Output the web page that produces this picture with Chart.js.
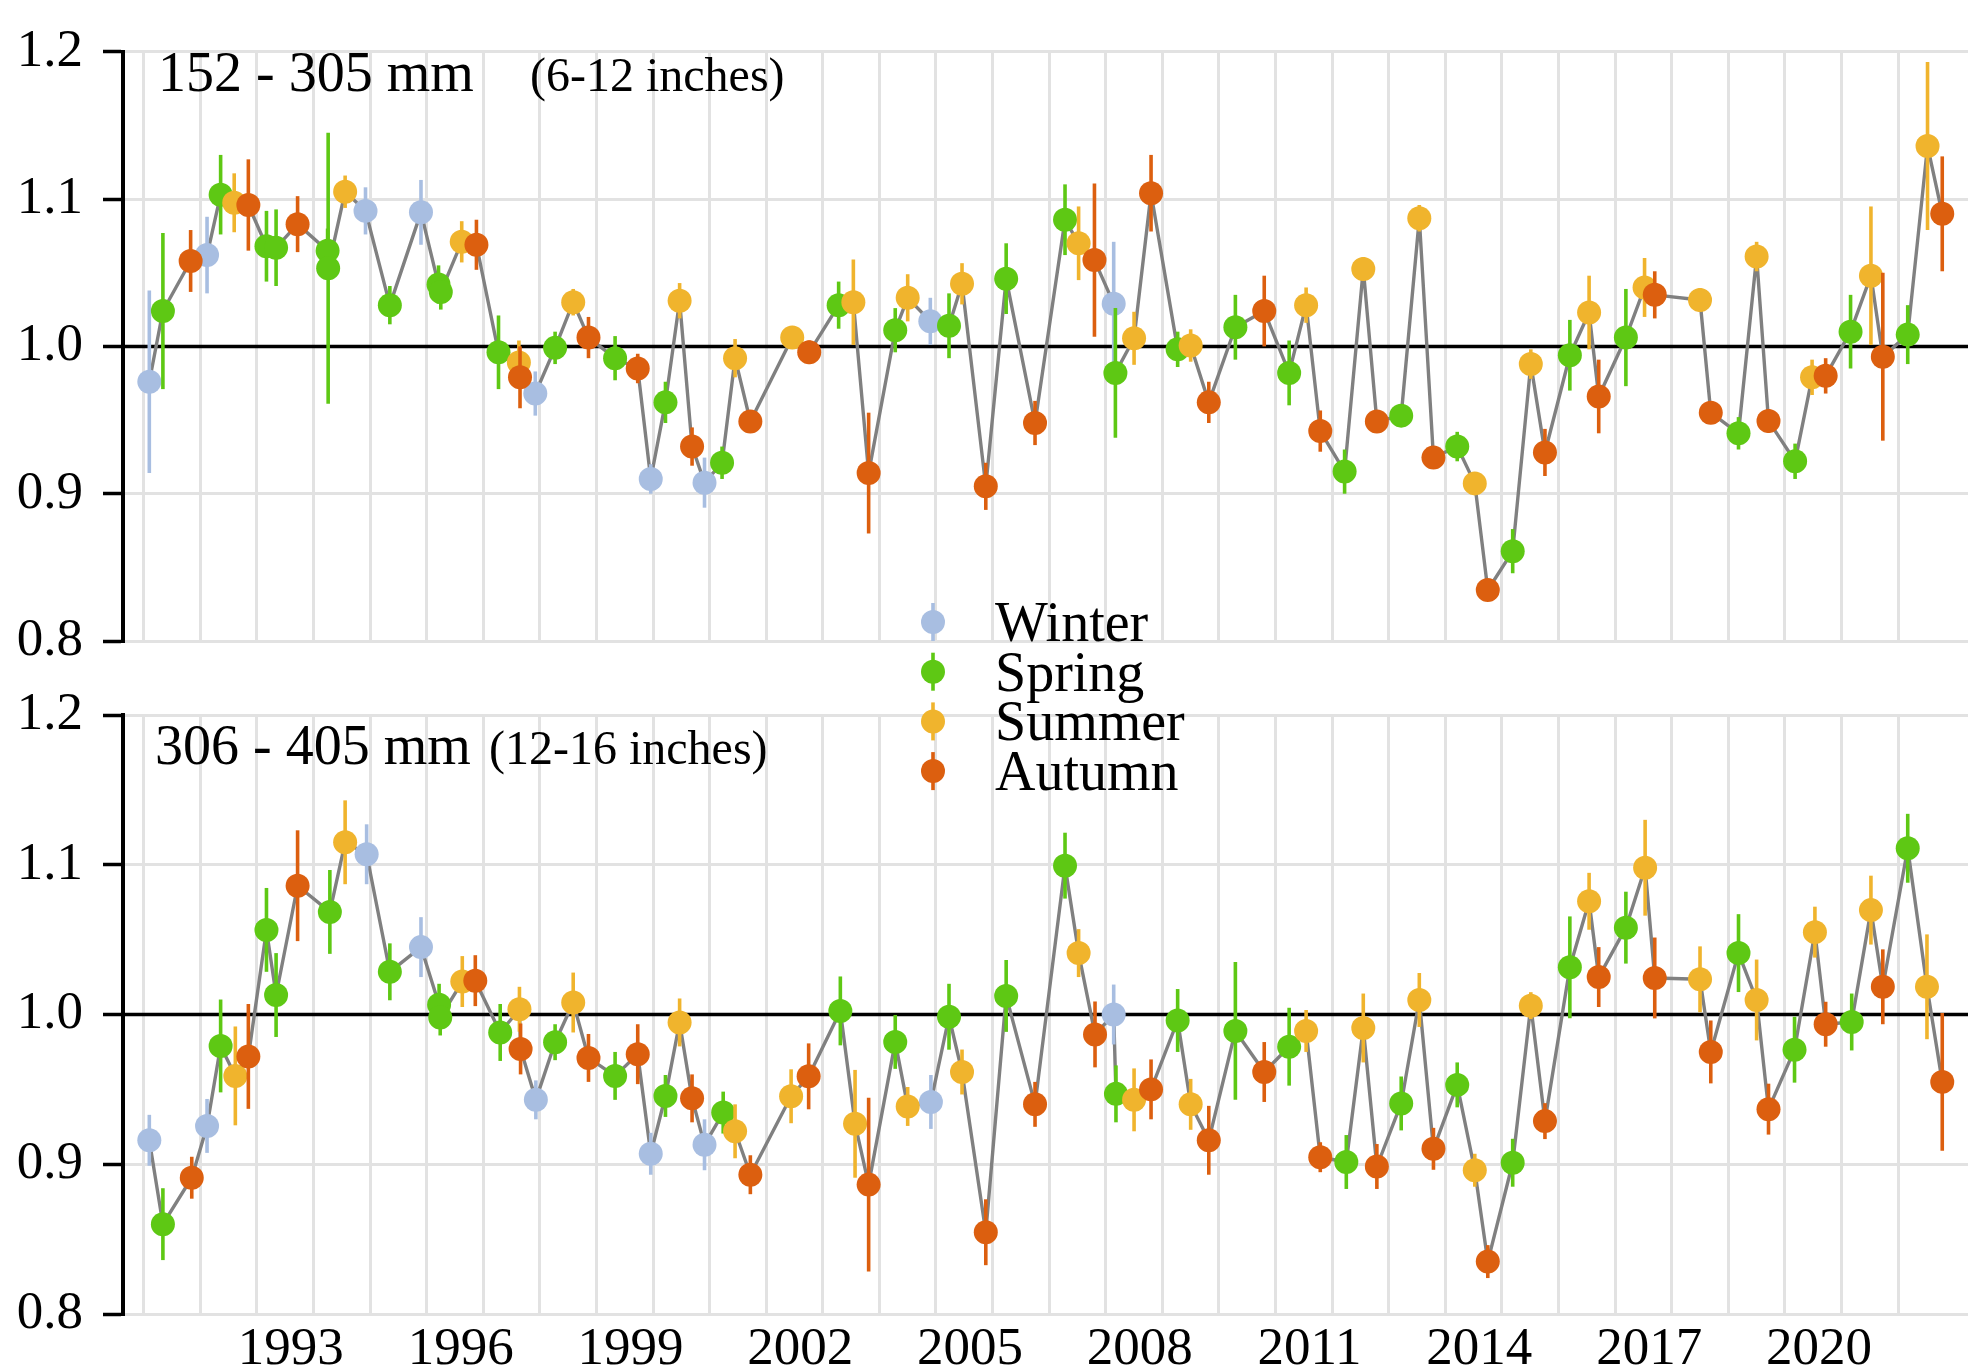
<!DOCTYPE html>
<html>
<head>
<meta charset="utf-8">
<script src="https://cdn.jsdelivr.net/npm/chart.js@4.4.1/dist/chart.umd.min.js"></script>
<style>
html,body{margin:0;padding:0;background:#fff;}
#wrap{position:relative;width:1980px;height:1371px;overflow:hidden;background:#fff;}
canvas{position:absolute;left:0;}
#c1{top:0;}
#c2{top:580px;}
</style>
</head>
<body>
<div id="wrap">
<canvas id="c1" width="1980" height="700" style="width:1980px;height:700px"></canvas>
<canvas id="c2" width="1980" height="791" style="width:1980px;height:791px"></canvas>
</div>
<script>
// ---------- DATA ----------
const seasonNames = ['Winter', 'Spring', 'Summer', 'Autumn'];
const seasonColors = ['#a8bee1', '#5ec814', '#f0b42d', '#dc5f0f'];
const yTickValues = [0.8, 0.9, 1.0, 1.1, 1.2];
const gridYears = [1991,1992,1993,1994,1995,1996,1997,1998,1999,2000,2001,2002,2003,2004,2005,2006,2007,2008,2009,2010,2011,2012,2013,2014,2015,2016,2017,2018,2019,2020,2021,2022];
const xTickLabels = [1993, 1996, 1999, 2002, 2005, 2008, 2011, 2014, 2017, 2020];
const panelTitles = ['152 - 305 mm', '306 - 405 mm'];
const panelSubtitles = ['(6-12 inches)', '(12-16 inches)'];

// Panel A: 152 - 305 mm
const aWinterX = [1991.10, 1992.12, 1994.92, 1995.90, 1997.92, 1999.96, 2000.91, 2004.90, 2008.14];
const aWinterY = [0.976, 1.062, 1.092, 1.091, 0.968, 0.910, 0.9075, 1.017, 1.029];
const aWinterE = [0.062, 0.026, 0.016, 0.022, 0.015, 0.010, 0.017, 0.016, 0.042];

const aSpringX = [1991.34, 1992.36, 1993.17, 1993.34, 1994.25, 1994.26, 1995.35, 1996.21, 1996.25, 1997.27, 1998.27, 1999.33, 2000.22, 2001.22, 2003.28, 2004.28, 2005.23, 2006.24, 2007.28, 2008.17, 2009.27, 2010.29, 2011.24, 2012.22, 2013.22, 2014.21, 2015.19, 2016.20, 2017.19, 2019.18, 2020.18, 2021.16, 2022.17];
const aSpringY = [1.024, 1.103, 1.068, 1.067, 1.065, 1.053, 1.028, 1.042, 1.037, 0.996, 0.999, 0.992, 0.962, 0.921, 1.028, 1.011, 1.014, 1.046, 1.086, 0.982, 0.998, 1.013, 0.982, 0.915, 0.953, 0.932, 0.861, 0.994, 1.006, 0.941, 0.922, 1.010, 1.008];
const aSpringE = [0.053, 0.027, 0.024, 0.026, 0.015, 0.092, 0.013, 0.013, 0.012, 0.025, 0.011, 0.015, 0.014, 0.011, 0.016, 0.015, 0.022, 0.024, 0.024, 0.044, 0.012, 0.022, 0.022, 0.015, 0.006, 0.010, 0.015, 0.024, 0.033, 0.011, 0.012, 0.025, 0.020];

const aSummerX = [1992.60, 1994.56, 1996.62, 1997.63, 1998.59, 2000.47, 2001.45, 2002.46, 2003.54, 2004.50, 2005.46, 2007.52, 2008.50, 2009.50, 2011.54, 2012.55, 2013.54, 2014.52, 2015.51, 2016.54, 2017.52, 2018.50, 2019.50, 2020.48, 2021.52, 2022.52];
const aSummerY = [1.0975, 1.105, 1.071, 0.989, 1.030, 1.031, 0.992, 1.006, 1.030, 1.033, 1.0425, 1.070, 1.0055, 1.0006, 1.028, 1.0526, 1.087, 0.907, 0.988, 1.023, 1.040, 1.0315, 1.061, 0.979, 1.048, 1.136];
const aSummerE = [0.020, 0.011, 0.014, 0.015, 0.009, 0.012, 0.013, 0.007, 0.029, 0.016, 0.014, 0.025, 0.018, 0.011, 0.012, 0.008, 0.009, 0.006, 0.010, 0.025, 0.020, 0.008, 0.010, 0.012, 0.047, 0.057];

const aAutumnX = [1991.83, 1992.85, 1993.72, 1996.88, 1997.65, 1998.86, 1999.73, 2000.69, 2001.72, 2002.76, 2003.81, 2005.88, 2006.75, 2007.80, 2008.80, 2009.82, 2010.80, 2011.79, 2012.79, 2013.79, 2014.75, 2015.76, 2016.71, 2017.70, 2018.69, 2019.71, 2020.72, 2021.73, 2022.78];
const aAutumnY = [1.058, 1.096, 1.083, 1.069, 0.979, 1.006, 0.985, 0.932, 0.949, 0.996, 0.914, 0.905, 0.948, 1.0586, 1.104, 0.962, 1.024, 0.9425, 0.949, 0.9245, 0.8346, 0.928, 0.966, 1.035, 0.955, 0.9494, 0.980, 0.993, 1.090];
const aAutumnE = [0.021, 0.031, 0.019, 0.017, 0.021, 0.014, 0.010, 0.013, 0.007, 0.008, 0.041, 0.016, 0.015, 0.052, 0.026, 0.014, 0.024, 0.014, 0.007, 0.006, 0.007, 0.016, 0.025, 0.016, 0.007, 0.008, 0.012, 0.057, 0.039];

// Panel B: 306 - 405 mm
const bWinterX = [1991.10, 1992.12, 1994.94, 1995.90, 1997.93, 1999.96, 2000.91, 2004.91, 2008.14];
const bWinterY = [0.916, 0.9256, 1.107, 1.045, 0.943, 0.907, 0.913, 0.9416, 1.000];
const bWinterE = [0.017, 0.018, 0.020, 0.020, 0.013, 0.014, 0.017, 0.018, 0.020];

const bSpringX = [1991.34, 1992.36, 1993.17, 1993.34, 1994.29, 1995.35, 1996.22, 1996.24, 1997.30, 1998.27, 1999.33, 2000.22, 2001.24, 2003.31, 2004.28, 2005.23, 2006.24, 2007.28, 2008.18, 2009.27, 2010.29, 2011.24, 2012.25, 2013.22, 2014.21, 2015.19, 2016.20, 2017.19, 2019.18, 2020.17, 2021.18, 2022.17];
const bSpringY = [0.860, 0.979, 1.0565, 1.013, 1.0685, 1.0285, 1.0065, 0.998, 0.988, 0.9815, 0.959, 0.9456, 0.9345, 1.0024, 0.9817, 0.9985, 1.0124, 1.0994, 0.947, 0.996, 0.989, 0.9785, 0.9015, 0.9406, 0.953, 0.901, 1.0315, 1.058, 1.041, 0.9765, 0.995, 1.111];
const bSpringE = [0.024, 0.031, 0.028, 0.028, 0.028, 0.019, 0.014, 0.012, 0.019, 0.012, 0.016, 0.014, 0.014, 0.023, 0.018, 0.022, 0.024, 0.022, 0.019, 0.021, 0.046, 0.026, 0.018, 0.018, 0.015, 0.016, 0.034, 0.024, 0.026, 0.022, 0.019, 0.023];

const bSummerX = [1992.62, 1994.56, 1996.63, 1997.64, 1998.59, 2000.47, 2001.45, 2002.44, 2003.57, 2004.50, 2005.46, 2007.52, 2008.50, 2009.50, 2011.54, 2012.55, 2013.54, 2014.52, 2015.51, 2016.54, 2017.53, 2018.50, 2019.50, 2020.53, 2021.52, 2022.51];
const bSummerY = [0.959, 1.115, 1.022, 1.0035, 1.008, 0.9947, 0.922, 0.9454, 0.927, 0.9386, 0.9616, 1.041, 0.943, 0.940, 0.989, 0.991, 1.0097, 0.896, 1.0059, 1.0756, 1.098, 1.0235, 1.0097, 1.055, 1.0697, 1.0185];
const bSummerE = [0.033, 0.028, 0.017, 0.015, 0.020, 0.016, 0.018, 0.018, 0.036, 0.013, 0.015, 0.016, 0.021, 0.017, 0.014, 0.023, 0.018, 0.011, 0.009, 0.019, 0.032, 0.022, 0.027, 0.017, 0.023, 0.035];

const bAutumnX = [1991.85, 1992.85, 1993.72, 1996.86, 1997.66, 1998.86, 1999.73, 2000.69, 2001.72, 2002.75, 2003.81, 2005.88, 2006.75, 2007.81, 2008.80, 2009.82, 2010.80, 2011.79, 2012.79, 2013.79, 2014.75, 2015.76, 2016.71, 2017.70, 2018.69, 2019.71, 2020.72, 2021.73, 2022.78];
const bAutumnY = [0.891, 0.972, 1.086, 1.0226, 0.977, 0.971, 0.9735, 0.944, 0.893, 0.9587, 0.8864, 0.8546, 0.940, 0.9867, 0.950, 0.916, 0.9616, 0.9047, 0.8985, 0.9103, 0.835, 0.9288, 1.025, 1.0244, 0.975, 0.9368, 0.9935, 1.0185, 0.955];
const bAutumnE = [0.014, 0.035, 0.037, 0.017, 0.017, 0.016, 0.020, 0.016, 0.013, 0.022, 0.058, 0.022, 0.015, 0.022, 0.020, 0.023, 0.020, 0.010, 0.015, 0.014, 0.011, 0.012, 0.020, 0.027, 0.021, 0.017, 0.015, 0.025, 0.046];

// ---------- CHART BUILDING ----------
const X_MIN = 1990.635, X_MAX = 2023.235;
const SERIF = '"Liberation Serif", "Times New Roman", serif';

function makeDatasets(series) {
  const all = [];
  series.forEach(s => s.x.forEach((x, i) => all.push({x: x, y: s.y[i]})));
  all.sort((p, q) => p.x - q.x);
  const ds = [{
    label: 'trend', data: all, showLine: true, borderColor: '#808080', borderWidth: 3.4,
    pointRadius: 0, pointHoverRadius: 0, tension: 0, borderJoinStyle: 'round', order: 10
  }];
  series.forEach((s, k) => {
    ds.push({
      label: seasonNames[k],
      data: s.x.map((x, i) => ({x: x, y: s.y[i]})),
      errors: s.e,
      backgroundColor: seasonColors[k], borderColor: seasonColors[k],
      pointRadius: 12, pointHoverRadius: 12, borderWidth: 0, showLine: false,
      order: 4 - k
    });
  });
  return ds;
}

const errorBarPlugin = {
  id: 'errorBars',
  beforeDatasetDraw(chart, args) {
    const ds = chart.data.datasets[args.index];
    if (!ds.errors) return;
    const xs = chart.scales.x, ys = chart.scales.y, ctx = chart.ctx;
    ctx.save();
    ctx.strokeStyle = ds.backgroundColor;
    ctx.lineWidth = 3.6;
    ds.data.forEach((p, i) => {
      const px = xs.getPixelForValue(p.x);
      ctx.beginPath();
      ctx.moveTo(px, ys.getPixelForValue(p.y - ds.errors[i]));
      ctx.lineTo(px, ys.getPixelForValue(p.y + ds.errors[i]));
      ctx.stroke();
    });
    ctx.restore();
  }
};

const refLinePlugin = {
  id: 'refLine',
  beforeDatasetsDraw(chart) {
    const a = chart.chartArea, ys = chart.scales.y, ctx = chart.ctx;
    const py = ys.getPixelForValue(1.0);
    ctx.save();
    ctx.strokeStyle = '#000';
    ctx.lineWidth = 3.5;
    ctx.beginPath();
    ctx.moveTo(a.left, py);
    ctx.lineTo(a.right, py);
    ctx.stroke();
    ctx.restore();
  }
};

const panelTitlePlugin = {
  id: 'panelTitle',
  afterDraw(chart, args, opts) {
    if (!opts || !opts.main) return;
    const ctx = chart.ctx;
    ctx.save();
    ctx.fillStyle = '#000';
    ctx.textBaseline = 'alphabetic';
    ctx.textAlign = 'left';
    ctx.font = '56px ' + SERIF;
    ctx.fillText(opts.main, opts.mainX, opts.baseline);
    ctx.font = '48px ' + SERIF;
    ctx.fillText(opts.sub, opts.subX, opts.baseline);
    ctx.restore();
  }
};

const seasonLegendPlugin = {
  id: 'seasonLegend',
  afterDraw(chart, args, opts) {
    if (!opts || !opts.show) return;
    const ctx = chart.ctx;
    ctx.save();
    seasonNames.forEach((name, i) => {
      const cy = opts.y0 + i * opts.step;
      ctx.strokeStyle = seasonColors[i];
      ctx.lineWidth = 3.6;
      ctx.beginPath();
      ctx.moveTo(opts.x, cy - 19);
      ctx.lineTo(opts.x, cy + 19);
      ctx.stroke();
      ctx.fillStyle = seasonColors[i];
      ctx.beginPath();
      ctx.arc(opts.x, cy, 12, 0, Math.PI * 2);
      ctx.fill();
      ctx.fillStyle = '#000';
      ctx.font = '56px ' + SERIF;
      ctx.textBaseline = 'alphabetic';
      ctx.textAlign = 'left';
      ctx.fillText(name, opts.textX, cy + 19);
    });
    ctx.restore();
  }
};

function makeScales(showXLabels, xHeight) {
  return {
    x: {
      type: 'linear', min: X_MIN, max: X_MAX,
      afterBuildTicks: ax => { ax.ticks = gridYears.map(v => ({value: v})); },
      afterFit: ax => { ax.height = xHeight; },
      grid: { color: '#e2e2e2', lineWidth: 3, drawTicks: false },
      border: { display: false },
      ticks: {
        display: showXLabels, autoSkip: false, maxRotation: 0, minRotation: 0,
        labelOffset: 34, padding: 4, color: '#000',
        font: { family: SERIF, size: 53 },
        callback: v => xTickLabels.includes(v) ? String(v) : ''
      }
    },
    y: {
      type: 'linear', min: 0.8, max: 1.2,
      afterBuildTicks: ax => { ax.ticks = yTickValues.map(v => ({value: v})); },
      afterFit: ax => { ax.width = 123; },
      grid: { color: '#e2e2e2', lineWidth: 3, drawTicks: true, tickLength: 20, tickColor: '#000', tickWidth: 3.5 },
      border: { display: true, color: '#000', width: 4 },
      ticks: { padding: 20, color: '#000', font: { family: SERIF, size: 53 }, callback: v => Number(v).toFixed(1) }
    }
  };
}

function makeChart(canvasId, series, padding, showXLabels, xHeight, titleOpts, legendOpts) {
  return new Chart(document.getElementById(canvasId), {
    type: 'scatter',
    data: { datasets: makeDatasets(series) },
    options: {
      responsive: false, animation: false, devicePixelRatio: 1, events: [],
      layout: { padding: padding },
      scales: makeScales(showXLabels, xHeight),
      plugins: {
        legend: { display: false }, tooltip: { enabled: false },
        panelTitle: titleOpts,
        seasonLegend: legendOpts
      }
    },
    plugins: [refLinePlugin, errorBarPlugin, panelTitlePlugin, seasonLegendPlugin]
  });
}

const seriesA = [
  {x: aWinterX, y: aWinterY, e: aWinterE},
  {x: aSpringX, y: aSpringY, e: aSpringE},
  {x: aSummerX, y: aSummerY, e: aSummerE},
  {x: aAutumnX, y: aAutumnY, e: aAutumnE}
];
const seriesB = [
  {x: bWinterX, y: bWinterY, e: bWinterE},
  {x: bSpringX, y: bSpringY, e: bSpringE},
  {x: bSummerX, y: bSummerY, e: bSummerE},
  {x: bAutumnX, y: bAutumnY, e: bAutumnE}
];

makeChart('c1', seriesA, {top: 42, bottom: 59, left: 0, right: 7}, false, 0,
  {main: panelTitles[0], sub: panelSubtitles[0], mainX: 158, subX: 530, baseline: 91},
  {show: false});
makeChart('c2', seriesB, {top: 135, bottom: 0, left: 0, right: 7}, true, 57,
  {main: panelTitles[1], sub: panelSubtitles[1], mainX: 155, subX: 489, baseline: 184},
  {show: true, x: 933, y0: 42, step: 49.7, textX: 995});
</script>
</body>
</html>
